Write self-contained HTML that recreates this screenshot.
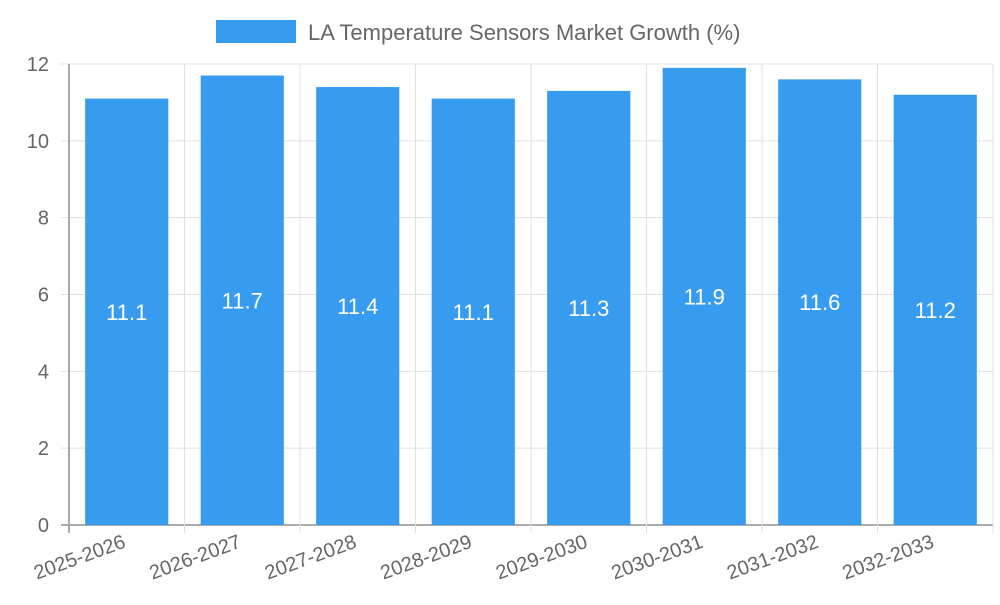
<!DOCTYPE html>
<html><head><meta charset="utf-8"><style>
body{margin:0;background:#fff;font-family:"Liberation Sans",sans-serif}
</style></head><body>
<svg id="chart" width="1000" height="600" xmlns="http://www.w3.org/2000/svg" font-family="Liberation Sans, sans-serif">
<g>
<rect x="216" y="20" width="80" height="23" fill="#379cf0"/>
<text x="308" y="40" font-size="22" fill="#666">LA Temperature Sensors Market Growth (%)</text>
</g>
<g id="grid"></g><g id="bars"></g><g id="labels"></g>
</svg>
<script>
const categories=["2025-2026","2026-2027","2027-2028","2028-2029","2029-2030","2030-2031","2031-2032","2032-2033"];
const values=[11.1,11.7,11.4,11.1,11.3,11.9,11.6,11.2];
const yTicks=[0,2,4,6,8,10,12];
const L=69,R=993,T=64,B=525,yMax=12;
const ns="http://www.w3.org/2000/svg";
const band=(R-L)/categories.length;
const y=v=>B-(v/yMax)*(B-T);
const x=i=>L+i*band;
function mk(t,a,p){const e=document.createElementNS(ns,t);for(const k in a)e.setAttribute(k,a[k]);p.appendChild(e);return e;}
const g=document.getElementById('grid'),bg=document.getElementById('bars'),lg=document.getElementById('labels');
yTicks.forEach(t=>{
 const l=mk('line',{x1:L-8,x2:R,y1:y(t),y2:y(t),stroke:t===0?'#aaa':'#e0e0e0','stroke-width':t===0?2:1},g);
 
 
 const tx=mk('text',{x:L-20,y:y(t)+7,'text-anchor':'end','font-size':20,fill:'#666'},g);
 tx.textContent=t;
 
 
});
for(let i=0;i<=categories.length;i++){
 const l=mk('line',{x1:x(i),x2:x(i),y1:T,y2:B+8,stroke:i===0?'#aaa':'#e0e0e0','stroke-width':i===0?2:1},g);
 
 
}
categories.forEach((c,i)=>{
 const bw=band*0.72,cx=x(i)+band/2;
 const r=mk('rect',{x:cx-bw/2,y:y(values[i]),width:bw,height:B-y(values[i]),fill:'#379cf0'},bg);
 
 
 const v=mk('text',{x:cx,y:(y(values[i])+B)/2+8,'text-anchor':'middle','font-size':22,fill:'#fff'},lg);
 v.textContent=values[i];
 
 
 const t=mk('text',{x:cx,y:B+22,'text-anchor':'end','font-size':20,fill:'#666',transform:`rotate(-20 ${cx} ${B+22})`},lg);
 t.textContent=c;
 
 
});
</script>
</body></html>
